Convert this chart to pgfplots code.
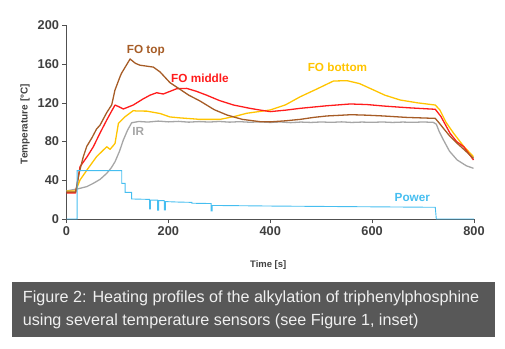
\documentclass[border=0pt]{standalone}
\usepackage{pgfplots}
\pgfplotsset{compat=1.18}
\usepackage{fontspec}
\setmainfont{Liberation Sans}
\definecolor{cbrown}{RGB}{166,92,38}
\definecolor{cred}{RGB}{255,28,28}
\definecolor{cyellow}{RGB}{255,196,0}
\definecolor{cgray}{RGB}{166,166,166}
\definecolor{cblue}{RGB}{70,190,240}
\definecolor{axisgray}{RGB}{80,80,80}
\definecolor{tickgray}{RGB}{64,64,64}
\definecolor{capgray}{RGB}{88,88,88}
\definecolor{captext}{RGB}{240,240,240}
\begin{document}
\begin{tikzpicture}
\path[use as bounding box] (0,0) rectangle (505bp,-349bp);
\begin{axis}[
  at={(66.5bp,-219bp)}, anchor=south west,
  scale only axis, width=407.5bp, height=193.5bp,
  xmin=0, xmax=800, ymin=0, ymax=200,
  axis x line*=bottom, axis y line*=left,
  xtick={0,200,...,800}, ytick={0,40,...,200},
  tick align=outside, major tick length=4bp,
  axis line style={draw=axisgray, line width=0.8bp},
  tick style={draw=axisgray, line width=0.8bp},
  ticklabel style={font=\fontsize{12.8}{13}\selectfont\bfseries, text=tickgray},
  /pgf/number format/assume math mode=true,
  xlabel={Time [s]}, ylabel={Temperature [°C]},
  every axis x label/.style={at={(axis description cs:0.495,-0.2377)}, anchor=center, font=\fontsize{9.5}{10}\selectfont\bfseries, text=tickgray},
  every axis y label/.style={at={(axis description cs:-0.102,0.49)}, anchor=center, rotate=90, font=\fontsize{10}{11}\selectfont\bfseries, text=tickgray},
  clip=false,
  every axis plot/.append style={line width=1.3bp, line join=round},
]
% IR
\addplot[cgray] coordinates {
(0,29) (20,31) (26.5,31.7) (40,33.5) (52.7,36.9) (66,41) (79,47.2) (88,53) (95.3,59.2) (104,70) (111.6,81.7) (120,92) (128,99.5) (142,100.8)
(160,100.2) (180,101.2) (200,100.4) (220,100.9) (240,100.1) (260,100.7) (280,100.2) (300,100.8) (320,100.1) (340,100.6) (360,100.0) (380,100.4)
(400,99.8) (420,100.3) (440,99.6) (460,100.2) (480,99.8) (500,100.3) (520,99.9) (540,100.4) (560,99.8) (580,100.2) (600,99.9) (620,100.3)
(640,99.8) (660,100.2) (680,99.9) (700,100.3) (720,99.9) (726,98) (732,90) (740,81.7) (752,70) (767,61) (785,55) (799,52.4)
};
% FO bottom
\addplot[cyellow] coordinates {
(0,29) (18,29) (26.5,40.3) (42,52) (59,64.4) (79,74.7) (85.5,72) (92,76) (95.3,78.2) (102,99) (115,105.7) (131,112) (138,111.6) (157.5,111.5)
(184,109) (203,105.5) (223,104.5) (262,103) (301.6,103) (330,106) (354,109.3) (380,111.2) (400,112.7) (430,118) (459,126.4) (490,134)
(524,142.6) (550.5,143) (575,140) (596,135) (625,128) (655,123) (690,120) (724,117.8) (733,112.7) (745,100) (760,88.6) (780,75) (799,64.4)
};
% FO middle
\addplot[cred] coordinates {
(0,27) (18,27) (26.5,54) (40,64) (52.7,74.7) (65,88) (79,102.3) (88,111) (95.3,117.8) (103,116) (111.6,113.7) (131,117.8) (150,124)
(164,128) (177,130.5) (190,129.2) (216.5,134.7) (236,135) (255,132) (275,128) (300,122.5) (328,117.8) (360,114.4) (380,112.6) (400,111)
(430,112.5) (459,114.4) (510,117) (557,118.9) (590,118.3) (622,116.8) (670,115) (724,113.4) (735,106) (753,88.6) (766,80) (780,74.7) (799,61)
};
% FO top
\addplot[cbrown] coordinates {
(0,28) (18,28) (25,48) (33,64.4) (39.7,75) (50,84) (59,93) (65.8,97) (79,110) (88.8,118) (95,133) (105,147) (108,150.6) (124.8,165.4)
(135,161) (144,159) (170.5,157) (183.7,152) (203,141) (223,134) (240,128) (262,122) (290,113) (315,107.5) (345,103) (380,100.6) (400,100.4)
(430,101.5) (459,103) (485,105) (511,106.5) (559,107.8) (590,107.3) (622,106.5) (668,105) (724,104) (732,99) (740,93.7) (752,86) (767,78.2) (780,72) (799,62.7)
};
% Power
\addplot[cblue, line width=0.9bp, line join=miter] coordinates {
(0,0) (21,0) (21,50) (108.4,50) (108.4,36.9) (115,36.9) (115,27.6) (128,27.6) (128,20.7) (160,20.3)
(163,20.3) (163,10.3) (165,10.3) (165,19.5) (179,19.5) (179,9) (181,9) (181,19) (192,19) (192,9.5) (194,9.5) (194,18)
(220,17.5) (246,17.2) (246,16.3) (284,16) (284,8.3) (286,8.3) (286,14) (330,13.8) (400,13.4) (500,13) (600,12.6) (700,12.2) (724,12.1) (726,0) (800,0)
};
\node[text=cbrown, font=\fontsize{11.8}{12}\selectfont\bfseries] at (axis cs:155.6,174) {FO top};
\node[text=cred, font=\fontsize{11.8}{12}\selectfont\bfseries] at (axis cs:262,145.7) {FO middle};
\node[text=cyellow, font=\fontsize{11.8}{12}\selectfont\bfseries] at (axis cs:532,156.8) {FO bottom};
\node[text=cgray, font=\fontsize{11.8}{12}\selectfont\bfseries] at (axis cs:141,90) {IR};
\node[text=cblue, font=\fontsize{11.8}{12}\selectfont\bfseries] at (axis cs:679,22.7) {Power};
\end{axis}
\fill[capgray] (12bp,-282bp) rectangle (495bp,-337bp);
\node[anchor=west, inner sep=0pt, text=captext, align=left, font=\fontsize{16.2}{23.7}\selectfont] at (22.7bp,-309.8bp) {Figure 2: Heating profiles of the alkylation of triphenylphosphine\\using several temperature sensors (see Figure 1, inset)};
\end{tikzpicture}
\end{document}
